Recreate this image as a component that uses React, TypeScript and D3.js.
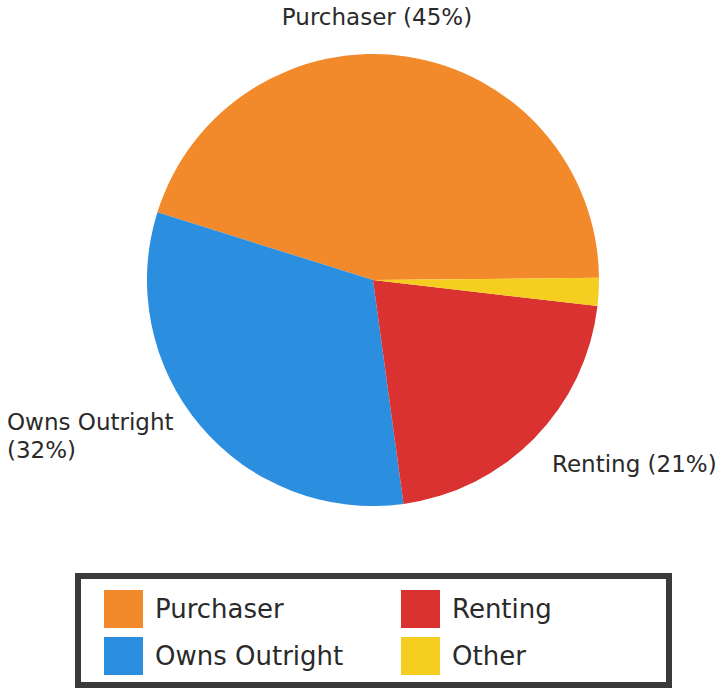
import React, { useEffect, useRef } from "react";
import * as d3 from "d3";

const categories = ["Purchaser", "Owns Outright", "Renting", "Other"];
const shares = [45, 32, 21, 2];
const colors = ["#F28A2B", "#2C8EDF", "#DA3131", "#F5CE20"];
const legendOrder = ["Purchaser", "Renting", "Owns Outright", "Other"];

const App = () => {
  const ref = useRef<SVGSVGElement>(null);

  useEffect(() => {
    const width = 716, height = 690;
    const svg = d3.select(ref.current).attr("width", width).attr("height", height);
    svg.selectAll("*").remove();

    const cx = 373, cy = 280, r = 226;
    const data = categories.map((c, i) => ({ name: c, value: shares[i] }));
    const color = d3.scaleOrdinal<string, string>().domain(categories).range(colors);

    // counter-clockwise from 3 o'clock, like the source chart
    const start = Math.PI / 2 - 0.01;
    const pie = d3.pie<{ name: string; value: number }>()
      .sort(null)
      .value(d => d.value)
      .startAngle(start)
      .endAngle(start - 2 * Math.PI);
    const arc = d3.arc<d3.PieArcDatum<{ name: string; value: number }>>()
      .innerRadius(0)
      .outerRadius(r);

    const g = svg.append("g").attr("transform", `translate(${cx},${cy})`);
    g.selectAll("path")
      .data(pie(data))
      .enter()
      .append("path")
      .attr("d", arc)
      .attr("fill", d => color(d.data.name));

    const font = "'DejaVu Sans', Verdana, sans-serif";
    const labelSize = 23;

    const lab = (x: number, y: number, lines: string[], anchor = "start") => {
      const t = svg.append("text")
        .attr("x", x).attr("y", y)
        .attr("text-anchor", anchor)
        .attr("font-family", font)
        .attr("font-size", labelSize)
        .attr("fill", "#2a2a2a");
      lines.forEach((l, i) => {
        t.append("tspan").attr("x", x).attr("dy", i === 0 ? 0 : 28).text(l);
      });
    };
    lab(377, 25, [`${categories[0]} (${shares[0]}%)`], "middle");
    lab(7, 430, [categories[1], `(${shares[1]}%)`]);
    lab(552, 472, [`${categories[2]} (${shares[2]}%)`]);

    // legend
    const lg = svg.append("g");
    lg.append("rect")
      .attr("x", 78).attr("y", 576)
      .attr("width", 591).attr("height", 109)
      .attr("fill", "#fff")
      .attr("stroke", "#3a3a3a")
      .attr("stroke-width", 6);

    const col = d3.scaleOrdinal<string, number>().domain(legendOrder).range([104, 401, 104, 401]);
    const row = d3.scaleOrdinal<string, number>().domain(legendOrder).range([590, 590, 637, 637]);

    legendOrder.forEach(name => {
      lg.append("rect")
        .attr("x", col(name)).attr("y", row(name))
        .attr("width", 39).attr("height", 38)
        .attr("fill", color(name));
      lg.append("text")
        .attr("x", col(name) + 51).attr("y", row(name) + 28)
        .attr("font-family", font)
        .attr("font-size", 26)
        .attr("fill", "#2a2a2a")
        .text(name);
    });
  }, []);

  return <svg ref={ref} style={{ position: "absolute", left: 0, top: 0 }}></svg>;
};

export default App;
